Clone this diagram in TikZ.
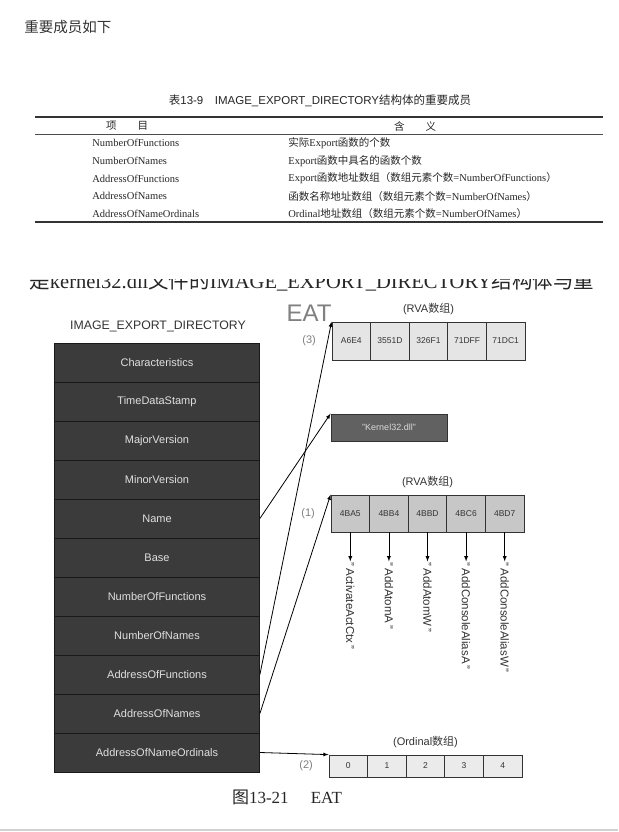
\documentclass[tikz,border=0pt]{standalone}
\usepackage{fontspec}
\setmainfont{Liberation Serif}
\setsansfont{Liberation Sans}
\newfontfamily\cjk{Noto Sans CJK SC}
\usetikzlibrary{positioning}
\newcommand\setfs[1]{\fontsize{#1}{#1}\selectfont}

\begin{document}
\begin{tikzpicture}[x=1pt, y=-1pt, >=latex, line width=0.8pt,
  feld/.style={draw=black!90, fill=black!77, text=black!12, minimum width=205pt,
    minimum height=39pt, inner sep=0pt, font=\sffamily\setfs{11}},
  zelle/.style={draw=black!80, minimum width=38.6pt, inner sep=0pt, text=black!80,
    font=\sffamily\setfs{8.5}},
  nummer/.style={text=black!50, font=\sffamily\setfs{11}},
  titel/.style={text=black!80, font=\sffamily\setfs{11}},
  fname/.style={rotate=-90, anchor=west, inner sep=1pt, text=black!80,
    font=\sffamily\setfs{11.5}},
  tab/.style={anchor=west, inner sep=0pt, text=black!85, font=\setfs{10.5}}]
\useasboundingbox[fill=white] (0,0) rectangle (618,832);
% Kopf
\node[anchor=west, inner sep=0pt, font=\cjk\setfs{14.5}, text=black!80] (hd) at (24,27) {重要成员如下};
% Tabelle 13-9
\node[font=\sffamily\setfs{11.5}, text=black!85] (tcap) at (320,101)
  {{\cjk 表}13-9\quad IMAGE\_EXPORT\_DIRECTORY{\cjk 结构体的重要成员}};
\draw[line width=1.4pt, black!80] (35,117) -- (603,117);
\node[font=\cjk\setfs{10.5}, text=black!85] (th1) at (127,126) {项\qquad 目};
\node[font=\cjk\setfs{10.5}, text=black!85] (th2) at (415,126) {含\qquad 义};
\draw[line width=0.7pt, black!70] (35,134) -- (603,134);
\foreach \links/\rechts [count=\i] in {
  NumberOfFunctions/{\cjk 实际}Export{\cjk 函数的个数},
  NumberOfNames/Export{\cjk 函数中具名的函数个数},
  AddressOfFunctions/Export{\cjk 函数地址数组（数组元素个数}=NumberOfFunctions{\cjk ）},
  AddressOfNames/{\cjk 函数名称地址数组（数组元素个数}=NumberOfNames{\cjk ）},
  AddressOfNameOrdinals/Ordinal{\cjk 地址数组（数组元素个数}=NumberOfNames{\cjk ）}} {
  \node[tab] (tl\i) at (92,{143+17.7*(\i-1)}) {\links};
  \node[tab] (tr\i) at (288,{143+17.7*(\i-1)}) {\rechts};
}
\draw[line width=1.4pt, black!80] (35,222) -- (603,222);
% abgeschnittene Zeile
\begin{scope}
  \clip (0,279.5) rectangle (618,300);
  \node[anchor=base west, inner sep=0pt, font=\setfs{20.5}, text=black!85] (cut) at (29,288)
    {{\cjk 是}kernel32.dll{\cjk 文件的}IMAGE\_EXPORT\_DIRECTORY{\cjk 结构体与重}};
\end{scope}
% Struktur IMAGE_EXPORT_DIRECTORY
\node[font=\sffamily\setfs{12.3}, text=black!80] (ttl) at (158,326) {IMAGE\_EXPORT\_DIRECTORY};
\foreach \f [count=\i] in {Characteristics,TimeDataStamp,MajorVersion,MinorVersion,Name,Base,
  NumberOfFunctions,NumberOfNames,AddressOfFunctions,AddressOfNames,AddressOfNameOrdinals}
  \node[feld] (s\i) at (157,{323.5+39*\i}) {\f};
% EAT (3)
\node[font=\sffamily\setfs{24}, text=black!50] (eat) at (309,313) {EAT};
\foreach \v [count=\i] in {A6E4,3551D,326F1,71DFF,71DC1}
  \node[zelle, fill=black!10, minimum height=38pt] (adr\i) at ({332+38.6*(\i-0.5)},341) {\v};
\node[titel, above=3pt of adr3] (rva3) {(RVA{\cjk 数组})};
\node[nummer, left=12pt of adr1] (n3) {(3)};
% Name
\node[draw=black!80, fill=black!62, text=black!15, minimum width=116pt, minimum height=27pt,
  font=\sffamily\setfs{9}] (krn) at (389,427.5) {"Kernel32.dll"};
% Namen (1)
\foreach \v [count=\i] in {4BA5,4BB4,4BBD,4BC6,4BD7}
  \node[zelle, fill=black!22, minimum height=37pt] (nam\i) at ({331+38.6*(\i-0.5)},513.5) {\v};
\node[titel, above=3pt of nam3] (rva1) {(RVA{\cjk 数组})};
\node[nummer, left=12pt of nam1] (n1) {(1)};
\foreach \f [count=\i] in {ActivateActCtx,AddAtomA,AddAtomW,AddConsoleAliasA,AddConsoleAliasW} {
  \node[fname] (f\i) at ([yshift=-29pt]nam\i.south) {"\,\f\,"};
  \draw[->] (nam\i.south) -- (f\i.west);
}
% Ordinals (2)
\foreach \v [count=\i] in {0,1,2,3,4}
  \node[zelle, fill=black!8, minimum height=22pt] (ord\i) at ({329+38.6*(\i-0.5)},766) {\v};
\node[titel, above=3pt of ord3] (ordl) {(Ordinal{\cjk 数组})};
\node[nummer, left=12pt of ord1] (n2) {(2)};
% Pfeile
\draw[->] (s5.east) -- (krn.north west);
\draw[->] (s9.east) -- (adr1.north west);
\draw[->] (s10.east) -- (nam1.north west);
\draw[->] (s11.east) -- (ord1.north west);
% Bildunterschrift
\node[font=\setfs{17}, text=black!85] (fig) at (287,797) {{\cjk 图}13-21\hspace{1.3em}EAT};
\draw[line width=2pt, black!18] (0,830) -- (618,830);
\end{tikzpicture}
\end{document}
